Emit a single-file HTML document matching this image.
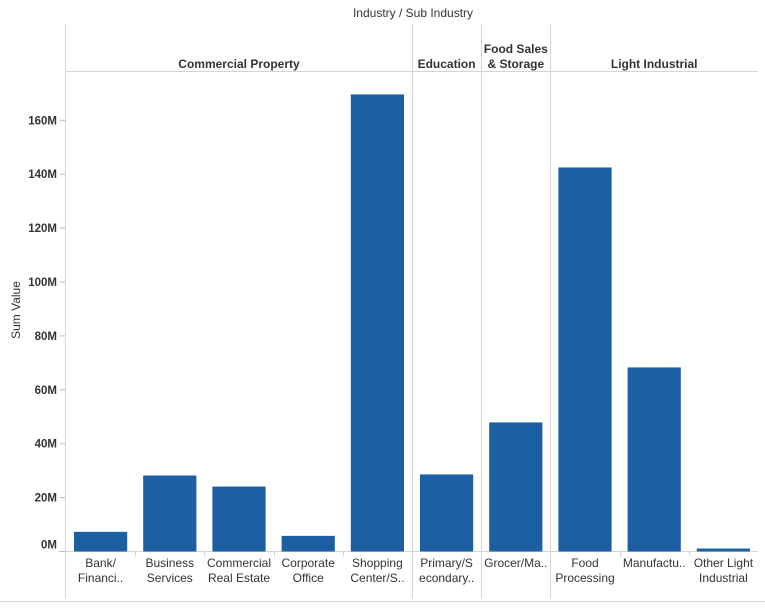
<!DOCTYPE html>
<html><head><meta charset="utf-8"><style>
body{margin:0;background:#fff;}
svg text{font-family:"Liberation Sans",Arial,sans-serif;fill:#333;}
</style></head><body>
<svg id="chart" width="765" height="604" xmlns="http://www.w3.org/2000/svg"></svg>
<script>
const categories=["Bank/|Financi..","Business|Services","Commercial|Real Estate","Corporate|Office","Shopping|Center/S..","Primary/S|econdary..","Grocer/Ma..","Food|Processing","Manufactu..","Other Light|Industrial"];
const values=[7.3,28.2,24.1,5.8,169.6,28.6,47.9,142.5,68.3,1.1];
const groups=["Commercial Property","Education","Food Sales|& Storage","Light Industrial"];
const groupCounts=[5,1,1,3];
const ticks=[0,20,40,60,80,100,120,140,160];
const tickLabels=["0M","20M","40M","60M","80M","100M","120M","140M","160M"];
const svg=document.getElementById('chart');
const NS='http://www.w3.org/2000/svg';
function mk(t,a,txt){const e=document.createElementNS(NS,t);for(const k in a)e.setAttribute(k,a[k]);if(txt!=null)e.textContent=txt;svg.appendChild(e);return e;}
const x0=66,colW=69.2,y0=551.5,pxPer=2.695;
const y=v=>y0-v*pxPer;
const xCol=i=>x0+i*colW;
let t=mk('text',{x:413,y:17,'font-size':12,'text-anchor':'middle'},'Industry  /  Sub Industry');


let l=mk('line',{x1:65.5,y1:24,x2:65.5,y2:598,stroke:'#d4d4d4'});

l=mk('line',{x1:66,y1:71.5,x2:758,y2:71.5,stroke:'#d4d4d4'});

l=mk('line',{x1:58,y1:y0,x2:758,y2:y0,stroke:'#d4d4d4'});

l=mk('line',{x1:0,y1:601.5,x2:765,y2:601.5,stroke:'#d4d4d4'});

let start=0;
groups.forEach((g,gi)=>{
  const xs=xCol(start),xe=xCol(start+groupCounts[gi]);
  const cx=(xs+xe)/2;const parts=g.split('|');
  parts.forEach((p,pi)=>{
    const yy=parts.length==1?68:53+pi*15;
    const tx=mk('text',{x:cx,y:yy,'font-size':12,'font-weight':'bold','text-anchor':'middle'},p);
    
    
  });
  if(gi<groups.length-1){
    const sx=Math.round(xe)+0.5;
    const sl=mk('line',{x1:sx,y1:24,x2:sx,y2:598,stroke:'#d4d4d4'});
    
    
  }
  start+=groupCounts[gi];
});
ticks.forEach((v,i)=>{
  const yy=y(v);
  const tl=mk('line',{x1:60,y1:yy,x2:65,y2:yy,stroke:'#bbb'});
  
  
  const tx=mk('text',{x:57,y:(i==0?yy-3:yy+4),'font-size':11.5,'font-weight':'bold','fill':'#555','text-anchor':'end'},tickLabels[i]);
  
  
});
t=mk('text',{x:0,y:0,'font-size':12,'text-anchor':'middle',transform:'translate(20,310) rotate(-90)'},'Sum Value');


categories.forEach((c,i)=>{
  const xs=xCol(i);
  const r=mk('rect',{x:xs+8,y:y(values[i]),width:colW-16,height:values[i]*pxPer,fill:'#1c5fa2'});
  
  
  if(i>0){const tk=mk('line',{x1:Math.round(xs)+0.5,y1:y0,x2:Math.round(xs)+0.5,y2:y0+5,stroke:'#d4d4d4'});
    }
  c.split('|').forEach((p,pi)=>{
    const tx=mk('text',{x:xs+colW/2,y:567+pi*15,'font-size':12,'text-anchor':'middle'},p);
    
    
  });
});
</script>
</body></html>
